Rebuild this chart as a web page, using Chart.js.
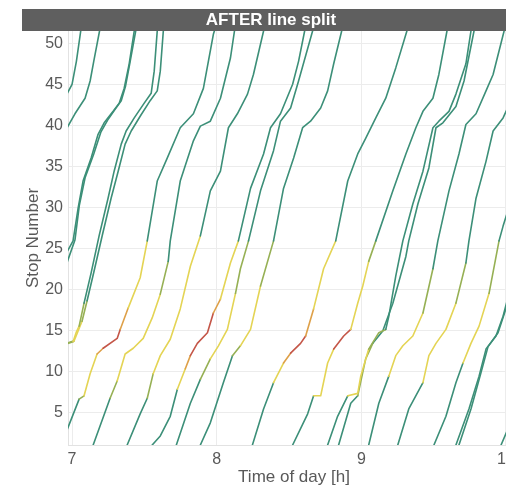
<!DOCTYPE html>
<html>
<head>
<meta charset="utf-8">
<title>AFTER line split</title>
<script src="https://cdn.jsdelivr.net/npm/chart.js@4.4.1/dist/chart.umd.min.js"></script>
<style>
  html, body { margin: 0; padding: 0; background: #fff; overflow: hidden; }
  #chart { display: block; }
</style>
</head>
<body>
<canvas id="chart" width="520" height="488" style="width:520px;height:488px"></canvas>
<script>
// --- 1. DATA ---
// each trip: [time of day (h), stop number, colour level of the segment that starts here]
const hourTicks = [7, 8, 9, 10];
const stopTicks = [5, 10, 15, 20, 25, 30, 35, 40, 45, 50];

const tripE1 = [[6.95,43.3,0],[7.00,45.0,0],[7.03,47.8,0],[7.06,51.5,0]];
const tripE2 = [[6.95,39.2,0],[7.02,41.4,0],[7.09,43.3,0],[7.125,45.4,0],[7.15,47.8,0],[7.19,51.5,0]];
const tripE3a = [[6.945,23.9,0],[7.007,25.9,0],[7.042,29.9,0],[7.076,33.2,0],[7.132,36.0,0],[7.18,38.9,0],[7.222,40.3,0],[7.284,41.7,0],[7.326,42.7,0],[7.36,44.5,0],[7.395,47.5,0],[7.43,51.5,0]];
const tripE3b = [[6.95,22.5,0],[7.02,26.0,0],[7.05,30.2,0],[7.09,33.6,0],[7.15,36.5,0],[7.20,39.2,0],[7.245,40.6,0],[7.30,42.0,0],[7.34,43.0,0],[7.37,44.8,0],[7.40,47.6,0],[7.44,51.5,0]];
const tripE4a = [[6.958,13.3,1],[7.007,13.6,2],[7.028,14.7,2],[7.049,15.5,1],[7.083,18.3,0],[7.132,22.0,0],[7.187,26.5,0],[7.249,31.1,0],[7.291,34.4,0],[7.34,37.7,0],[7.374,39.3,0],[7.43,40.9,0],[7.499,42.7,0],[7.547,43.9,0],[7.568,46.6,0],[7.589,51.5,0]];
const tripE4b = [[6.958,13.4,1],[7.014,13.7,2],[7.042,14.9,2],[7.069,16.1,1],[7.104,18.6,0],[7.152,22.2,0],[7.208,26.5,0],[7.27,31.1,0],[7.319,34.4,0],[7.367,37.7,0],[7.409,39.3,0],[7.471,41.1,0],[7.54,43.0,0],[7.589,44.2,0],[7.61,46.6,0],[7.631,51.5,0]];
const tripL1 = [[6.958,2.5,0],[7.049,6.6,1],[7.083,7.0,2],[7.125,9.7,2],[7.173,12.1,3],[7.215,12.8,4],[7.312,14.0,4],[7.333,15.1,3],[7.388,17.7,2],[7.471,21.4,2],[7.52,25.9,0],[7.589,33.2,0],[7.658,36.0,0],[7.748,39.7,0],[7.839,41.4,0],[7.908,44.5,0],[7.977,51.1,0],[7.984,51.5,0]];
const tripS1 = [[7.146,1.0,0],[7.263,6.7,1],[7.312,8.8,2],[7.367,12.1,2],[7.423,12.8,2],[7.492,14.0,2],[7.554,16.5,2],[7.61,19.4,1],[7.665,23.4,0],[7.679,25.9,0],[7.748,33.2,0],[7.839,38.1,0],[7.887,39.9,0],[7.956,40.5,0],[8.026,43.3,0],[8.095,48.2,0],[8.123,51.5,0]];
const tripS2 = [[7.381,1.0,0],[7.471,4.8,0],[7.52,6.7,1],[7.561,9.7,2],[7.61,11.9,2],[7.679,13.9,2],[7.748,17.6,2],[7.818,22.8,2],[7.887,26.5,0],[7.956,32.0,0],[8.026,34.4,0],[8.081,39.7,0],[8.143,41.4,0],[8.213,43.8,0],[8.254,46.2,0],[8.324,51.5,0]];
const tripS3 = [[7.554,1.0,0],[7.61,2.1,0],[7.679,4.5,0],[7.728,7.8,2],[7.783,10.3,3],[7.818,11.9,4],[7.866,13.4,4],[7.936,14.7,4],[7.977,17.1,3],[8.026,18.8,2],[8.095,23.2,2],[8.15,25.9,0],[8.234,32.3,0],[8.324,36.5,0],[8.372,39.7,0],[8.441,41.4,0],[8.525,45.0,0],[8.566,47.8,0],[8.608,51.5,0]];
const tripS4 = [[7.721,1.0,0],[7.818,6.1,0],[7.887,9.0,1],[7.956,11.5,2],[8.012,13.1,2],[8.074,15.1,2],[8.13,19.5,1],[8.164,22.5,1],[8.22,25.9,0],[8.303,32.0,0],[8.393,36.9,0],[8.441,40.5,0],[8.511,42.1,0],[8.566,45.4,0],[8.663,51.5,0]];
const tripS5 = [[7.887,1.0,0],[7.956,3.7,0],[8.046,8.6,0],[8.109,11.9,1],[8.164,13.1,2],[8.234,15.1,2],[8.303,20.4,1],[8.393,25.9,0],[8.462,32.3,0],[8.532,36.0,0],[8.594,39.7,0],[8.649,40.5,0],[8.719,42.1,0],[8.767,44.2,0],[8.809,47.5,0],[8.864,51.5,0]];
const tripS6 = [[8.247,1.0,0],[8.324,5.4,0],[8.393,8.6,2],[8.462,11.0,3],[8.511,12.2,4],[8.58,13.4,4],[8.615,14.3,3],[8.67,17.6,2],[8.739,22.5,2],[8.823,25.9,0],[8.906,33.2,0],[8.975,36.5,0],[9.03,38.4,0],[9.10,40.9,0],[9.169,43.3,0],[9.238,47.0,0],[9.315,51.5,0]];
const tripS7 = [[8.525,1.0,0],[8.629,4.8,0],[8.67,7.0,2],[8.719,7.0,2],[8.767,11.0,2],[8.809,12.7,4],[8.878,14.3,4],[8.927,15.1,2],[8.975,18.3,2],[9.01,20.4,2],[9.051,23.4,1],[9.10,25.9,0],[9.218,32.0,0],[9.308,36.5,0],[9.377,39.7,0],[9.426,41.7,0],[9.495,43.3,0],[9.536,46.2,0],[9.592,51.5,0]];
const tripS8 = [[8.767,1.0,0],[8.836,4.5,0],[8.906,7.0,2],[8.975,7.3,2],[8.996,9.4,2],[9.051,12.7,1],[9.121,14.7,1],[9.169,15.1,0],[9.19,16.7,0],[9.238,21.6,0],[9.287,25.9,0],[9.356,30.4,0],[9.426,34.4,0],[9.495,39.7,0],[9.536,40.5,0],[9.606,41.7,0],[9.654,43.8,0],[9.723,47.5,0],[9.758,51.5,0]];
const tripS9 = [[8.843,1.0,0],[8.927,6.1,0],[8.975,7.0,1],[9.03,11.5,1],[9.079,13.4,0],[9.148,14.9,0],[9.218,18.3,0],[9.308,24.0,0],[9.328,25.9,0],[9.391,30.4,0],[9.467,34.8,0],[9.516,39.7,0],[9.564,40.3,0],[9.654,42.3,0],[9.71,45.4,0],[9.779,51.5,0]];
const tripS10 = [[9.051,1.0,0],[9.121,6.1,0],[9.19,9.4,2],[9.238,11.9,2],[9.287,13.1,2],[9.356,14.3,2],[9.426,17.1,1],[9.495,22.5,0],[9.529,25.9,0],[9.606,32.0,0],[9.675,36.5,0],[9.723,40.1,0],[9.793,41.4,0],[9.862,44.2,0],[9.911,46.2,0],[9.987,51.5,0]];
const tripS11 = [[9.252,1.0,0],[9.328,5.4,0],[9.426,8.6,2],[9.467,11.9,2],[9.516,13.4,2],[9.585,15.1,2],[9.654,18.3,1],[9.723,23.2,0],[9.744,25.9,0],[9.793,31.1,0],[9.862,35.6,0],[9.911,39.3,0],[9.98,40.9,0],[10.035,43.0,0],[10.09,51.5,0]];
const tripS12 = [[9.502,1.0,0],[9.585,4.5,0],[9.654,8.6,0],[9.703,11.0,2],[9.758,13.4,2],[9.814,15.5,2],[9.883,19.5,1],[9.952,25.9,0],[9.98,27.7,0],[10.035,30.8,0],[10.1,40.0,0]];
const tripS13 = [[9.654,1.0,0],[9.744,5.4,0],[9.814,9.4,0],[9.862,12.7,0],[9.931,14.3,0],[9.98,16.7,0],[10.035,20.4,0],[10.1,28.0,0]];
const tripS14 = [[9.675,1.0,0],[9.758,5.4,0],[9.827,9.8,0],[9.876,13.0,0],[9.945,14.7,0],[9.994,17.3,0],[10.035,19.8,0],[10.1,27.0,0]];
const tripS15 = [[9.966,1.0,0],[10.022,3.3,0],[10.1,8.0,0]];

const trips = [tripE1, tripE2, tripE3a, tripE3b, tripE4a, tripE4b, tripL1,
  tripS1, tripS2, tripS3, tripS4, tripS5, tripS6, tripS7, tripS8,
  tripS9, tripS10, tripS11, tripS12, tripS13, tripS14, tripS15];

// --- 2. STYLE ---
// colour per level: green (normal) -> olive -> yellow -> orange -> red
const levelColors = ['rgb(60,143,120)', 'rgb(150,176,84)', 'rgb(228,212,84)', 'rgb(222,160,72)', 'rgb(196,86,72)'];
const textGray = '#595959';
Chart.defaults.font.family = "'Liberation Sans', Arial, Helvetica, sans-serif";

// dark bar behind the title
const titleBar = {
  id: 'titleBar',
  beforeDraw(chart) {
    const ctx = chart.ctx;
    ctx.save();
    ctx.fillStyle = '#5f5f5f';
    ctx.fillRect(22, 9, chart.width - 22, chart.chartArea.top - 9);
    ctx.restore();
  }
};

// --- 3. CHART ---
const datasets = trips.map(trip => ({
  data: trip.map(p => ({ x: p[0], y: p[1] })),
  borderColor: levelColors[0],
  borderWidth: 1.6,
  borderJoinStyle: 'round',
  borderCapStyle: 'round',
  pointRadius: 0,
  tension: 0,
  fill: false,
  segment: {
    borderColor: c => levelColors[trip[c.p0DataIndex][2]]
  }
}));

new Chart(document.getElementById('chart'), {
  type: 'line',
  data: { datasets },
  plugins: [titleBar],
  options: {
    responsive: false,
    animation: false,
    layout: { padding: { left: 22, right: 0, top: 0, bottom: 0 } },
    plugins: {
      legend: { display: false },
      tooltip: { enabled: false },
      title: {
        display: true,
        text: 'AFTER line split',
        color: '#ffffff',
        font: { size: 17, weight: 'bold' },
        padding: { top: 10, bottom: 0.6 }
      }
    },
    scales: {
      x: {
        type: 'linear',
        min: 6.972,
        max: 10.097,
        afterBuildTicks: s => { s.ticks = hourTicks.map(v => ({ value: v })); },
        afterFit: s => { s.height = 43; s.paddingLeft = 0; s.paddingRight = 0; },
        grid: { color: '#ececec', drawTicks: false },
        border: { color: '#e2e2e2' },
        ticks: { color: textGray, font: { size: 16 }, padding: 5, autoSkip: false, maxRotation: 0 },
        title: { display: true, text: 'Time of day [h]', color: textGray, font: { size: 17 }, padding: { top: 0, bottom: 0 } }
      },
      y: {
        type: 'linear',
        min: 1,
        max: 51.5,
        afterBuildTicks: s => { s.ticks = stopTicks.map(v => ({ value: v })); },
        afterFit: s => { s.width = 46; },
        grid: { color: '#ececec', drawTicks: false },
        border: { color: '#e2e2e2' },
        ticks: { color: textGray, font: { size: 16 }, padding: 5 },
        title: { display: true, text: 'Stop Number', color: textGray, font: { size: 17 }, padding: { top: 1, bottom: 0 } }
      }
    }
  }
});
</script>
</body>
</html>
